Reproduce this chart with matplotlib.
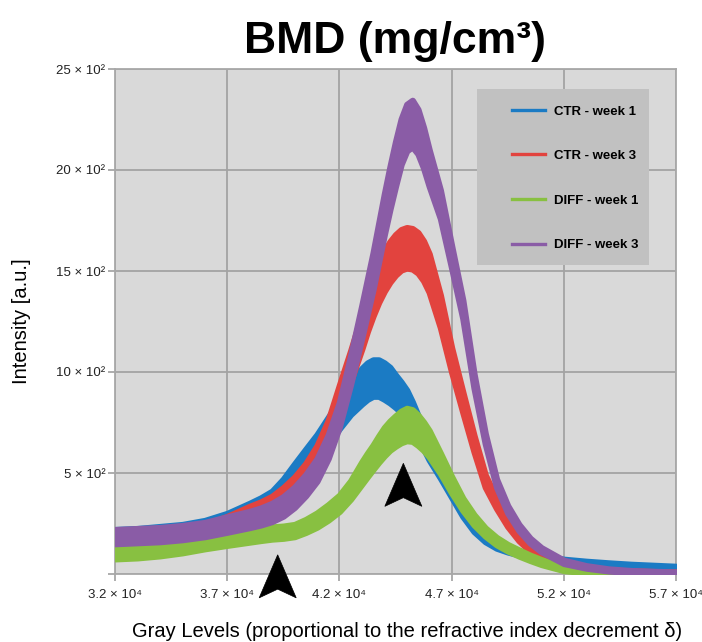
import numpy as np
import matplotlib
matplotlib.use("Agg")
import matplotlib.pyplot as plt
from matplotlib.lines import Line2D
from matplotlib.patches import Polygon, Rectangle

plt.rcParams['font.family'] = ['Liberation Sans', 'DejaVu Sans']

# gray levels sampled along the x axis
gray = [32000, 33000, 34000, 35000, 36000, 37000, 38000, 38500, 39000, 39500,
        40000, 40500, 41000, 41500, 42000, 42500, 43000, 43250, 43500, 43750,
        44000, 44250, 44500, 44750, 45000, 45250, 45500, 45750, 46000, 46500,
        47000, 47500, 48000, 48500, 49000, 49500, 50000, 50500, 51000, 52000,
        53000, 54000, 55000, 56000, 57000]

# mean intensity of each histogram
ctr_w1 = [190, 195, 205, 215, 235, 265, 310, 335, 365, 420,
          490, 560, 630, 710, 790, 870, 930, 955, 970, 970,
          955, 935, 905, 875, 840, 790, 730, 670, 610, 510,
          410, 310, 230, 175, 140, 120, 105, 92, 82, 65,
          55, 47, 40, 35, 30]
ctr_w3 = [175, 180, 185, 195, 215, 250, 295, 315, 340, 380,
          430, 495, 580, 700, 870, 1030, 1200, 1290, 1370, 1440,
          1500, 1545, 1580, 1605, 1615, 1610, 1590, 1550, 1490, 1300,
          1060, 850, 645, 460, 350, 255, 180, 125, 85, 42,
          25, 15, 10, 7, 5]
diff_w1 = [100, 105, 115, 130, 150, 170, 188, 196, 203, 207,
           215, 238, 267, 305, 350, 416, 500, 540, 578, 618,
           655, 685, 708, 728, 740, 735, 712, 682, 645, 548,
           442, 345, 268, 208, 163, 130, 104, 80, 59, 25,
           12, 7, 5, 3, 2]
diff_w3 = [185, 190, 195, 205, 220, 245, 270, 285, 305, 335,
           380, 440, 515, 630, 790, 1010, 1250, 1375, 1500, 1640,
           1780, 1910, 2030, 2140, 2210, 2230, 2190, 2110, 2010, 1830,
           1570, 1310, 955, 670, 450, 320, 230, 165, 120, 60,
           35, 20, 12, 8, 5]

# half height of the noise band around each curve
ctr_w1_noise = [30, 30, 30, 30, 30, 35, 40, 42, 45, 50,
                55, 58, 60, 65, 70, 80, 88, 90, 90, 90,
                90, 88, 80, 75, 70, 62, 55, 50, 45, 35,
                30, 25, 20, 15, 12, 11, 10, 9, 8, 8,
                8, 8, 8, 8, 8]
ctr_w3_noise = [30, 30, 30, 30, 30, 35, 40, 42, 45, 48,
                50, 52, 55, 60, 65, 75, 85, 88, 92, 95,
                100, 100, 100, 100, 100, 100, 100, 98, 95, 80,
                60, 50, 40, 30, 25, 20, 15, 12, 10, 8,
                6, 5, 5, 5, 5]
diff_w1_noise = [25, 25, 25, 25, 25, 28, 30, 30, 30, 30,
                 30, 32, 35, 38, 40, 45, 55, 58, 60, 65,
                 70, 72, 75, 78, 80, 78, 75, 70, 65, 50,
                 40, 30, 25, 20, 18, 16, 15, 13, 12, 8,
                 6, 5, 5, 5, 5]
diff_w3_noise = [35, 35, 35, 35, 35, 38, 40, 42, 45, 48,
                 50, 52, 55, 58, 60, 70, 80, 85, 90, 95,
                 100, 105, 110, 112, 115, 115, 110, 100, 90, 70,
                 55, 45, 35, 25, 20, 18, 15, 12, 10, 8,
                 6, 5, 5, 5, 5]

labels = ["CTR - week 1", "CTR - week 3", "DIFF - week 1", "DIFF - week 3"]
colors = ['#1b7bc4', '#e2433e', '#88c041', '#8a5ca6']

xticks = [32000, 37000, 42000, 47000, 52000, 57000]
xticklabels = ["3.2 × 10⁴", "3.7 × 10⁴", "4.2 × 10⁴", "4.7 × 10⁴", "5.2 × 10⁴", "5.7 × 10⁴"]
yticks = [0, 500, 1000, 1500, 2000, 2500]
yticklabels = ["", "5 × 10²", "10 × 10²", "15 × 10²", "20 × 10²", "25 × 10²"]

# arrow heads marking the shoulder and the peak of DIFF - week 1
arrow_tips = [(39250, 95), (44850, 548)]
ARROW_HALF_W = 825
ARROW_H = 213
ARROW_NOTCH = 170

fig = plt.figure(figsize=(7.02, 6.42), dpi=100)
ax = fig.add_axes([115 / 702, 68 / 642, 561 / 702, 505 / 642])
ax.set_facecolor('#d9d9d9')

series = [(ctr_w1, ctr_w1_noise), (ctr_w3, ctr_w3_noise),
          (diff_w1, diff_w1_noise), (diff_w3, diff_w3_noise)]
x = np.array(gray)
for (vals, noise), c in zip(series, colors):
    v = np.array(vals)
    n = np.array(noise)
    ax.fill_between(x, v - n, v + n, facecolor=c, edgecolor=c, linewidth=4.5,
                    joinstyle='round', zorder=3)

for tx, ty in arrow_tips:
    pts = [(tx, ty), (tx + ARROW_HALF_W, ty - ARROW_H), (tx, ty - ARROW_NOTCH),
           (tx - ARROW_HALF_W, ty - ARROW_H)]
    ax.add_patch(Polygon(pts, closed=True, facecolor='black', edgecolor='black',
                         lw=0.5, clip_on=False, zorder=6))

ax.set_xlim(32000, 57000)
ax.set_ylim(0, 2500)
ax.set_xticks(xticks)
ax.set_xticklabels(xticklabels)
ax.set_yticks(yticks)
ax.set_yticklabels(yticklabels)
ax.tick_params(axis='both', labelsize=9.5, colors='#a0a0a0', labelcolor='#222222',
               length=5, width=1.2)
ax.tick_params(axis='x', pad=6)
ax.tick_params(axis='y', pad=2)
ax.grid(True, color='#a3a3a3', linewidth=1.3)
ax.set_axisbelow(True)
for sp in ax.spines.values():
    sp.set_color('#a8a8a8')
    sp.set_linewidth(1.3)

ax.set_xlabel("Gray Levels (proportional to the refractive index decrement δ)",
              fontsize=14.5)
ax.xaxis.set_label_coords(0.52, -0.095)
ax.set_ylabel("Intensity [a.u.]", fontsize=14.5)
ax.yaxis.set_label_coords(-0.15, 0.5)
ax.set_title("BMD (mg/cm³)", fontsize=32, fontweight='bold', pad=11.5)

# legend box
ax.add_patch(Rectangle((0.645, 0.612), 0.307, 0.349, transform=ax.transAxes,
                       facecolor='#c1c1c1', edgecolor='none', zorder=4))
handles = [Line2D([0], [0], color=c, lw=2.4) for c in colors]
leg = ax.legend(handles, labels, loc='upper left', bbox_to_anchor=(0.688, 0.949),
                frameon=False, labelspacing=2.45, handlelength=2.5,
                handletextpad=0.7, borderpad=0.3, prop={'weight': 'bold', 'size': 9.5})
leg.set_zorder(5)

fig.savefig("out.png", dpi=100)
